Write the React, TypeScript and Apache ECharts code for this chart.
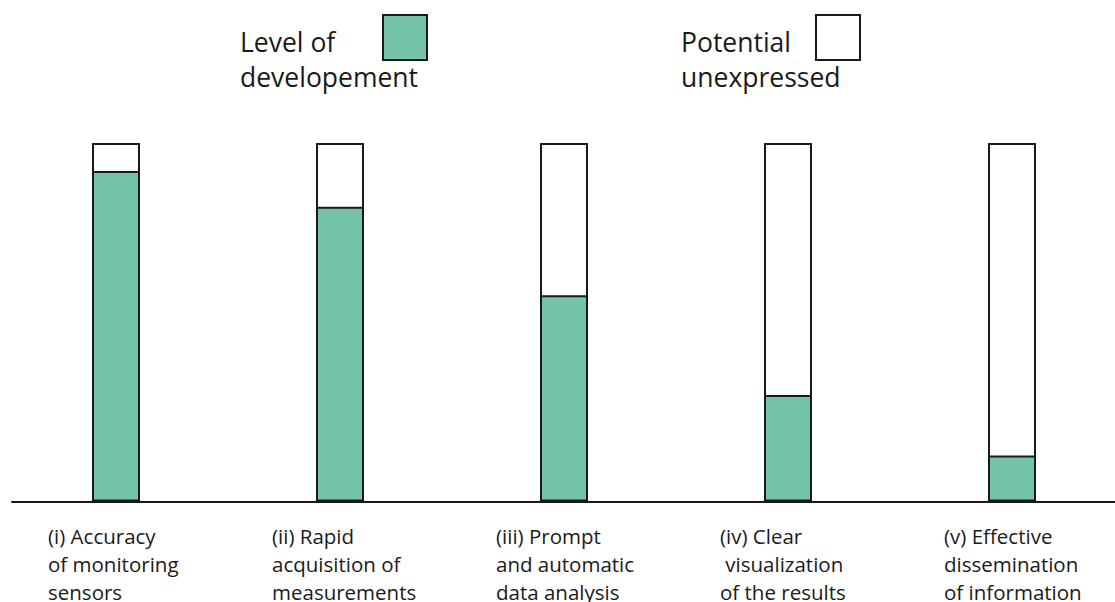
import React, { useEffect, useRef } from "react";
import * as echarts from "echarts";

const categories = [
  "(i) Accuracy\nof monitoring\nsensors",
  "(ii) Rapid\nacquisition of\nmeasurements",
  "(iii) Prompt\nand automatic\ndata analysis",
  "(iv) Clear\n visualization\nof the results",
  "(v) Effective\ndissemination\nof information",
];
const development = [0.922, 0.822, 0.575, 0.297, 0.128];
const unexpressed = [0.078, 0.178, 0.425, 0.703, 0.872];
const positions = [0, 1, 2, 3, 4];

const GREEN = "#75c4a8";
const FONT = "Open Sans";

export default function App() {
  const ref = useRef<HTMLDivElement>(null);
  useEffect(() => {
    if (!ref.current) return;
    const chart = echarts.init(ref.current, undefined, { renderer: "svg" });
    chart.setOption({
      animation: false,
      backgroundColor: "#ffffff",
      grid: { left: 12, right: 0, top: 143, bottom: 99 },
      xAxis: {
        type: "value",
        min: -0.4643,
        max: 4.4598,
        axisLine: { show: true, lineStyle: { color: "#1a1a1a", width: 2 } },
        axisTick: { show: false },
        splitLine: { show: false },
        axisLabel: {
          customValues: positions,
          margin: 20,
          align: "center",
          verticalAlign: "top",
          formatter: (v: number) => {
            const name = categories[Math.round(v)] ?? "";
            return name
              .split("\n")
              .map((l) => "{a|" + l + "}")
              .join("\n");
          },
          rich: {
            a: {
              width: 136,
              align: "left",
              fontFamily: FONT,
              fontSize: 20.5,
              lineHeight: 28,
              color: "#1a1a1a",
            },
          },
        },
      },
      yAxis: { type: "value", min: 0, max: 1, show: false },
      series: [
        {
          name: "Potential unexpressed",
          type: "bar",
          barWidth: 48,
          barGap: "-100%",
          data: positions.map((p, i) => [p, development[i] + unexpressed[i]]),
          itemStyle: { color: "#ffffff", borderColor: "#1a1a1a", borderWidth: 2 },
        },
        {
          name: "Level of developement",
          type: "bar",
          barWidth: 48,
          barGap: "-100%",
          data: positions.map((p, i) => [p, development[i]]),
          itemStyle: { color: GREEN, borderColor: "#1a1a1a", borderWidth: 2 },
        },
      ],
      graphic: [
        {
          type: "text",
          left: 240,
          top: 24,
          style: {
            text: "Level of\ndevelopement",
            fontFamily: FONT,
            fontSize: 26.5,
            lineHeight: 35,
            fill: "#1a1a1a",
          },
        },
        {
          type: "rect",
          shape: { x: 383, y: 15, width: 44, height: 45 },
          style: { fill: GREEN, stroke: "#1a1a1a", lineWidth: 2 },
        },
        {
          type: "text",
          left: 681,
          top: 24,
          style: {
            text: "Potential\nunexpressed",
            fontFamily: FONT,
            fontSize: 26.5,
            lineHeight: 35,
            fill: "#1a1a1a",
          },
        },
        {
          type: "rect",
          shape: { x: 816, y: 15, width: 44, height: 45 },
          style: { fill: "#ffffff", stroke: "#1a1a1a", lineWidth: 2 },
        },
      ],
    });
    return () => chart.dispose();
  }, []);
  return (
    <div
      ref={ref}
      style={{ position: "absolute", left: 0, top: 0, width: 1115, height: 602 }}
    />
  );
}
